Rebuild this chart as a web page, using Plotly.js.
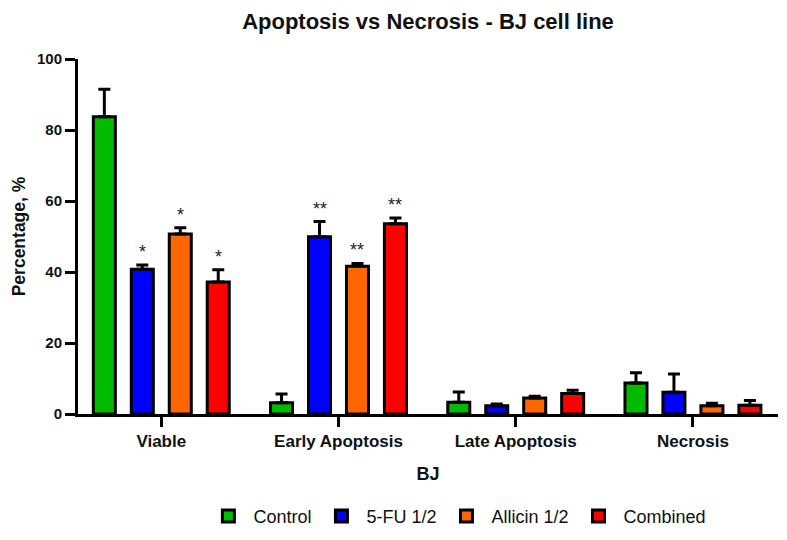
<!DOCTYPE html>
<html>
<head>
<meta charset="utf-8">
<script src="https://cdn.plot.ly/plotly-3.0.1.min.js"></script>
<style>html,body{margin:0;padding:0;background:#fff;}#chart{width:787px;height:540px;}</style>
</head>
<body>
<div id="chart"></div>
<script>
const categories = ['Viable', 'Early Apoptosis', 'Late Apoptosis', 'Necrosis'];
const seriesNames = ['Control', '5-FU 1/2', 'Allicin 1/2', 'Combined'];
const controlVals = [83.7, 3.2, 3.3, 8.7];
const controlErr = [7.8, 2.4, 2.9, 2.9];
const fuVals = [40.8, 49.9, 2.3, 6.1];
const fuErr = [1.2, 4.3, 0.5, 5.2];
const allicinVals = [50.7, 41.6, 4.5, 2.3];
const allicinErr = [1.8, 0.8, 0.5, 0.7];
const combinedVals = [37.2, 53.6, 5.8, 2.5];
const combinedErr = [3.4, 1.6, 0.9, 1.3];
const controlSig = ['', '', '', ''];
const fuSig = ['*', '**', '', ''];
const allicinSig = ['*', '**', '', ''];
const combinedSig = ['*', '**', '', ''];
const colors = ['#00bb00', '#0000ff', '#ff6600', '#ff0000'];

const vals = [controlVals, fuVals, allicinVals, combinedVals];
const errs = [controlErr, fuErr, allicinErr, combinedErr];
const sigs = [controlSig, fuSig, allicinSig, combinedSig];

const FONT = 'Liberation Sans, Arial, sans-serif';
const traces = vals.map((v, i) => ({
  type: 'bar', name: seriesNames[i], x: categories, y: v,
  marker: {color: colors[i], line: {color: '#000', width: 3}},
  error_y: {type: 'data', array: errs[i], symmetric: false, arrayminus: v.map(() => 0), color: '#000', thickness: 3, width: 6},
}));

const xRange = [-0.47, 3.48];
const l = 78, r = 9, t = 59, b = 126;
const plotW = 787 - l - r;
const pxPerUnit = plotW / (xRange[1] - xRange[0]);
const bargap = 0.143;
const slotPx = (1 - bargap) / 4 * pxPerUnit;

const annotations = [];
sigs.forEach((s, i) => {
  s.forEach((txt, j) => {
    if (!txt) return;
    annotations.push({
      xref: 'x', yref: 'y', x: categories[j], y: vals[i][j] + errs[i][j],
      xshift: (i - 1.5) * slotPx, yshift: 1, yanchor: 'bottom', showarrow: false,
      text: txt, font: {family: FONT, size: 18, color: '#222'}
    });
  });
});

const layout = {
  width: 787, height: 540,
  margin: {l: l, r: r, t: t, b: b, autoexpand: false},
  paper_bgcolor: '#fff', plot_bgcolor: '#fff',
  title: {text: '<b>Apoptosis vs Necrosis - BJ cell line</b>', x: 0.5, xref: 'paper', xanchor: 'center', y: 0.961, yanchor: 'middle',
          font: {family: FONT, size: 22, color: '#111'}},
  barmode: 'group', bargap: bargap, bargroupgap: 0.42,
  xaxis: {
    range: xRange, showline: true, linecolor: '#000', linewidth: 3,
    ticks: 'outside', ticklen: 10, tickwidth: 3, tickcolor: '#000',
    tickfont: {family: FONT, size: 17, color: '#111', weight: 'bold'},
    title: {text: '<b>BJ</b>', font: {family: FONT, size: 18, color: '#111'}, standoff: 17},
    showgrid: false, zeroline: false, fixedrange: true
  },
  yaxis: {
    range: [0, 100], dtick: 20, showline: true, linecolor: '#000', linewidth: 3,
    ticks: 'outside', ticklen: 10, tickwidth: 3, tickcolor: '#000',
    tickfont: {family: FONT, size: 15, color: '#111', weight: 'bold'},
    title: {text: '<b>Percentage, %</b>', font: {family: FONT, size: 17.5, color: '#111'}, standoff: 7},
    showgrid: false, zeroline: false
  },
  legend: {orientation: 'h', x: 0.542, xanchor: 'center', yref: 'container', y: 0.044, yanchor: 'middle', itemwidth: 40,
           font: {family: FONT, size: 18, color: '#111'}, traceorder: 'normal'},
  annotations: annotations
};

Plotly.newPlot('chart', traces, layout, {displayModeBar: false, staticPlot: true});
</script>
</body>
</html>
